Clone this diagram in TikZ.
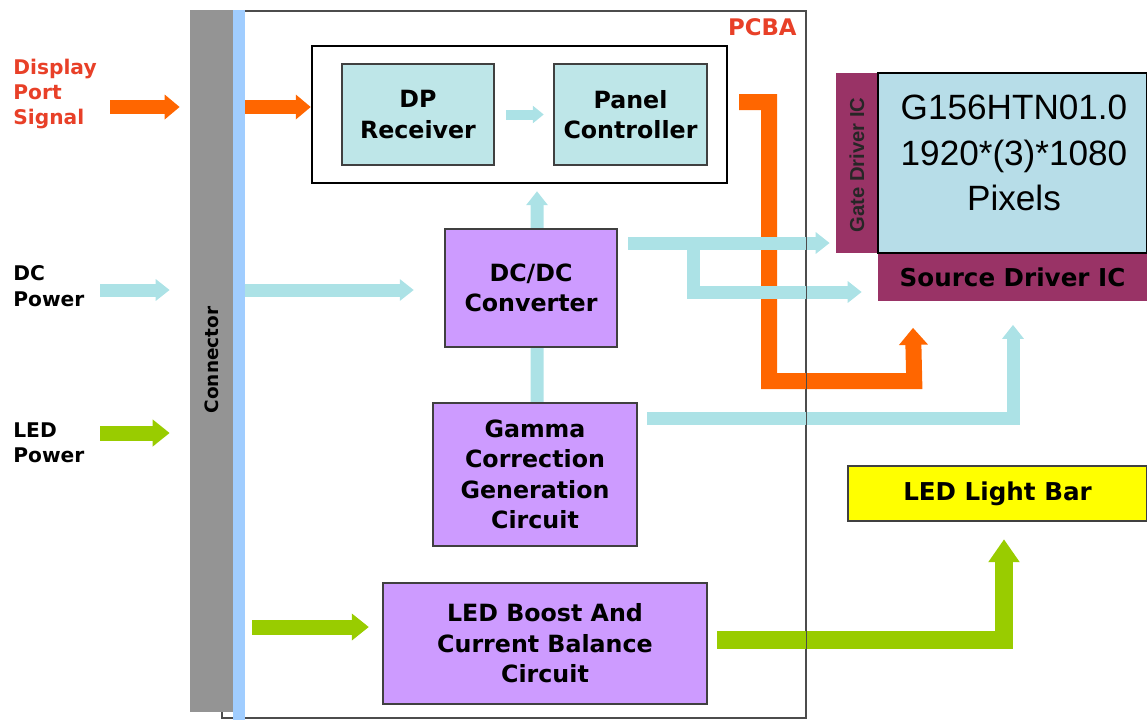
\documentclass[tikz,border=0pt]{standalone}
\usepackage{fontspec}
\setmainfont{DejaVu Sans}
\newfontfamily\arialfont{Liberation Sans}
\usetikzlibrary{arrows.meta}
\definecolor{connGray}{RGB}{148,148,148}
\definecolor{connBlue}{RGB}{160,205,255}
\definecolor{rxCyan}{RGB}{190,230,232}
\definecolor{blkPurple}{RGB}{205,155,255}
\definecolor{lcdBlue}{RGB}{183,221,232}
\definecolor{drvMaroon}{RGB}{153,51,102}
\definecolor{barYellow}{RGB}{255,255,0}
\definecolor{sigOrange}{RGB}{255,102,0}
\definecolor{pwrGreen}{RGB}{153,204,0}
\definecolor{pwrCyan}{RGB}{172,226,230}
\definecolor{lblRed}{RGB}{232,64,40}
\newcommand{\blkfont}{\fontsize{13.5}{17.4}\selectfont\bfseries}
\newcommand{\lblfont}{\fontsize{11.5}{14.5}\selectfont\bfseries}

\begin{document}
\begin{tikzpicture}[x=0.02cm,y=-0.02cm,
	blk/.style={draw=black!75,line width=0.05cm,inner sep=0pt,align=center,font=\blkfont},
	lbl/.style={align=left,anchor=west,inner sep=0pt,font=\lblfont},
	sigarr/.style={draw=sigOrange,line width=0.28cm,-{Triangle[length=0.3cm,width=0.48cm]}},
	pwrarr/.style={draw=pwrCyan,line width=0.26cm,-{Triangle[length=0.28cm,width=0.42cm]}},
	pwrline/.style={draw=pwrCyan,line width=0.26cm},
	ledarr/.style={draw=pwrGreen,line width=0.3cm,-{Triangle[length=0.34cm,width=0.52cm]}}]
	\useasboundingbox (0,0) rectangle (1147,724);
	\node[draw=black!70,line width=0.03cm,minimum width=11.68cm,minimum height=14.14cm] (pcba) at (514,364.5) {};
	\node[anchor=east,inner sep=0pt,text=lblRed,font=\fontsize{13}{15}\selectfont\bfseries] (pcbalbl) at (797,27) {PCBA};
	\node[fill=connGray,inner sep=0pt,minimum width=0.86cm,minimum height=14.04cm] (conn) at (211.5,361) {};
	\node[fill=connBlue,inner sep=0pt,minimum width=0.24cm,minimum height=14.2cm] (strip) at (239,365) {};
	\node[rotate=90,font=\fontsize{10.5}{12}\selectfont\bfseries] (conntxt) at (212,360) {Connector};
	\node[lbl,text=lblRed] (dpsig) at (13,94) {Display\\Port\\Signal};
	\node[lbl] (dcpwr) at (13,286) {DC\\Power};
	\node[lbl] (ledpwr) at (13,443) {LED\\Power};
	\node[draw=black,line width=0.05cm,minimum width=8.3cm,minimum height=2.74cm] (grp) at (519.5,114.5) {};
	\node[blk,fill=rxCyan,minimum width=3.04cm,minimum height=2.02cm] (dprx) at (418,114.5) {DP\\Receiver};
	\node[blk,fill=rxCyan,minimum width=3.06cm,minimum height=2.02cm] (pctrl) at (630.5,114.5) {Panel\\Controller};
	\node[blk,fill=blkPurple,minimum width=3.44cm,minimum height=2.36cm] (dcdc) at (531,288) {DC/DC\\Converter};
	\node[blk,fill=blkPurple,minimum width=4.08cm,minimum height=2.86cm] (gamma) at (535,474.5) {Gamma\\Correction\\Generation\\Circuit};
	\node[blk,fill=blkPurple,minimum width=6.48cm,minimum height=2.42cm] (ledb) at (545,643.5) {LED Boost And\\Current Balance\\Circuit};
	\node[fill=drvMaroon,inner sep=0pt,minimum width=0.84cm,minimum height=3.6cm] (gate) at (857,163) {};
	\node[rotate=90,text=black!85,font=\arialfont\fontsize{11.5}{13}\selectfont\bfseries] (gatetxt) at (857,165) {Gate Driver IC};
	\node[draw=black,fill=lcdBlue,line width=0.04cm,minimum width=5.38cm,minimum height=3.6cm] (panel) at (1012.5,163) {};
	\node[align=center,font=\arialfont\fontsize{20}{26}\selectfont] (lcdtxt) at (1014,153) {G156HTN01.0\\1920*(3)*1080\\Pixels};
	\node[fill=drvMaroon,inner sep=0pt,minimum width=5.38cm,minimum height=0.94cm,font=\fontsize{14}{16}\selectfont\bfseries] (src) at (1012.5,277) {Source Driver IC};
	\node[blk,fill=barYellow,minimum width=5.98cm,minimum height=1.1cm,font=\fontsize{14}{16}\selectfont\bfseries] (bar) at (997.5,493.5) {LED Light Bar};
	\coordinate (dpin) at (110,107);
	\coordinate (dcin) at (100,290);
	\coordinate (ledin) at (100,433);
	\coordinate (ledmid) at (252,627);
	\draw[sigarr] (dpin) -- ([xshift=-0.2cm]conn.west |- dpin);
	\draw[sigarr] (strip.east |- dpin) -- (grp.west |- dpin);
	\draw[sigarr,line width=0.32cm,-{Triangle[length=0.34cm,width=0.56cm]}] ([shift={(31,-12.5)}]pctrl.east) -- ++(30,0) -- ++(0,279) -- ++(145,0) -- ([shift={(-99.5,27)}]src.south);
	\draw[pwrarr] (dcin) -- ([xshift=-0.4cm]conn.west |- dcin);
	\draw[pwrarr] (strip.east |- dcin) -- ([xshift=-0.6cm]dcdc.west |- dcin);
	\draw[pwrarr] ([shift={(10,-45)}]dcdc.east) coordinate (dcout) -- ([xshift=-0.12cm]gate.west |- dcout);
	\draw[pwrarr] ([xshift=1.3cm]dcout) |- ([shift={(-16,15)}]src.west);
	\draw[pwrarr] ([xshift=0.12cm]dcdc.north) -- ([shift={(17.5,7)}]grp.south);
	\draw[pwrline] ([xshift=0.12cm]dcdc.south) -- ([xshift=0.04cm]gamma.north);
	\draw[pwrarr] ([shift={(9,-56.5)}]gamma.east) -| ([shift={(0.5,24)}]src.south);
	\draw[pwrarr,line width=0.2cm,-{Triangle[length=0.22cm,width=0.34cm]}] ([xshift=0.22cm]dprx.east) -- ([xshift=-0.18cm]pctrl.west);
	\draw[ledarr] (ledin) -- ([xshift=-0.4cm]conn.west |- ledin);
	\draw[ledarr] (ledmid) -- ([xshift=-0.26cm]ledb.west |- ledmid);
	\draw[ledarr,line width=0.36cm,-{Triangle[length=0.46cm,width=0.6cm]}] ([shift={(9,-3.5)}]ledb.east) -| ([shift={(6.5,17)}]bar.south);
	\draw[black!70,line width=0.03cm] (pcba.north east) -- (pcba.south east);
\end{tikzpicture}
\end{document}
